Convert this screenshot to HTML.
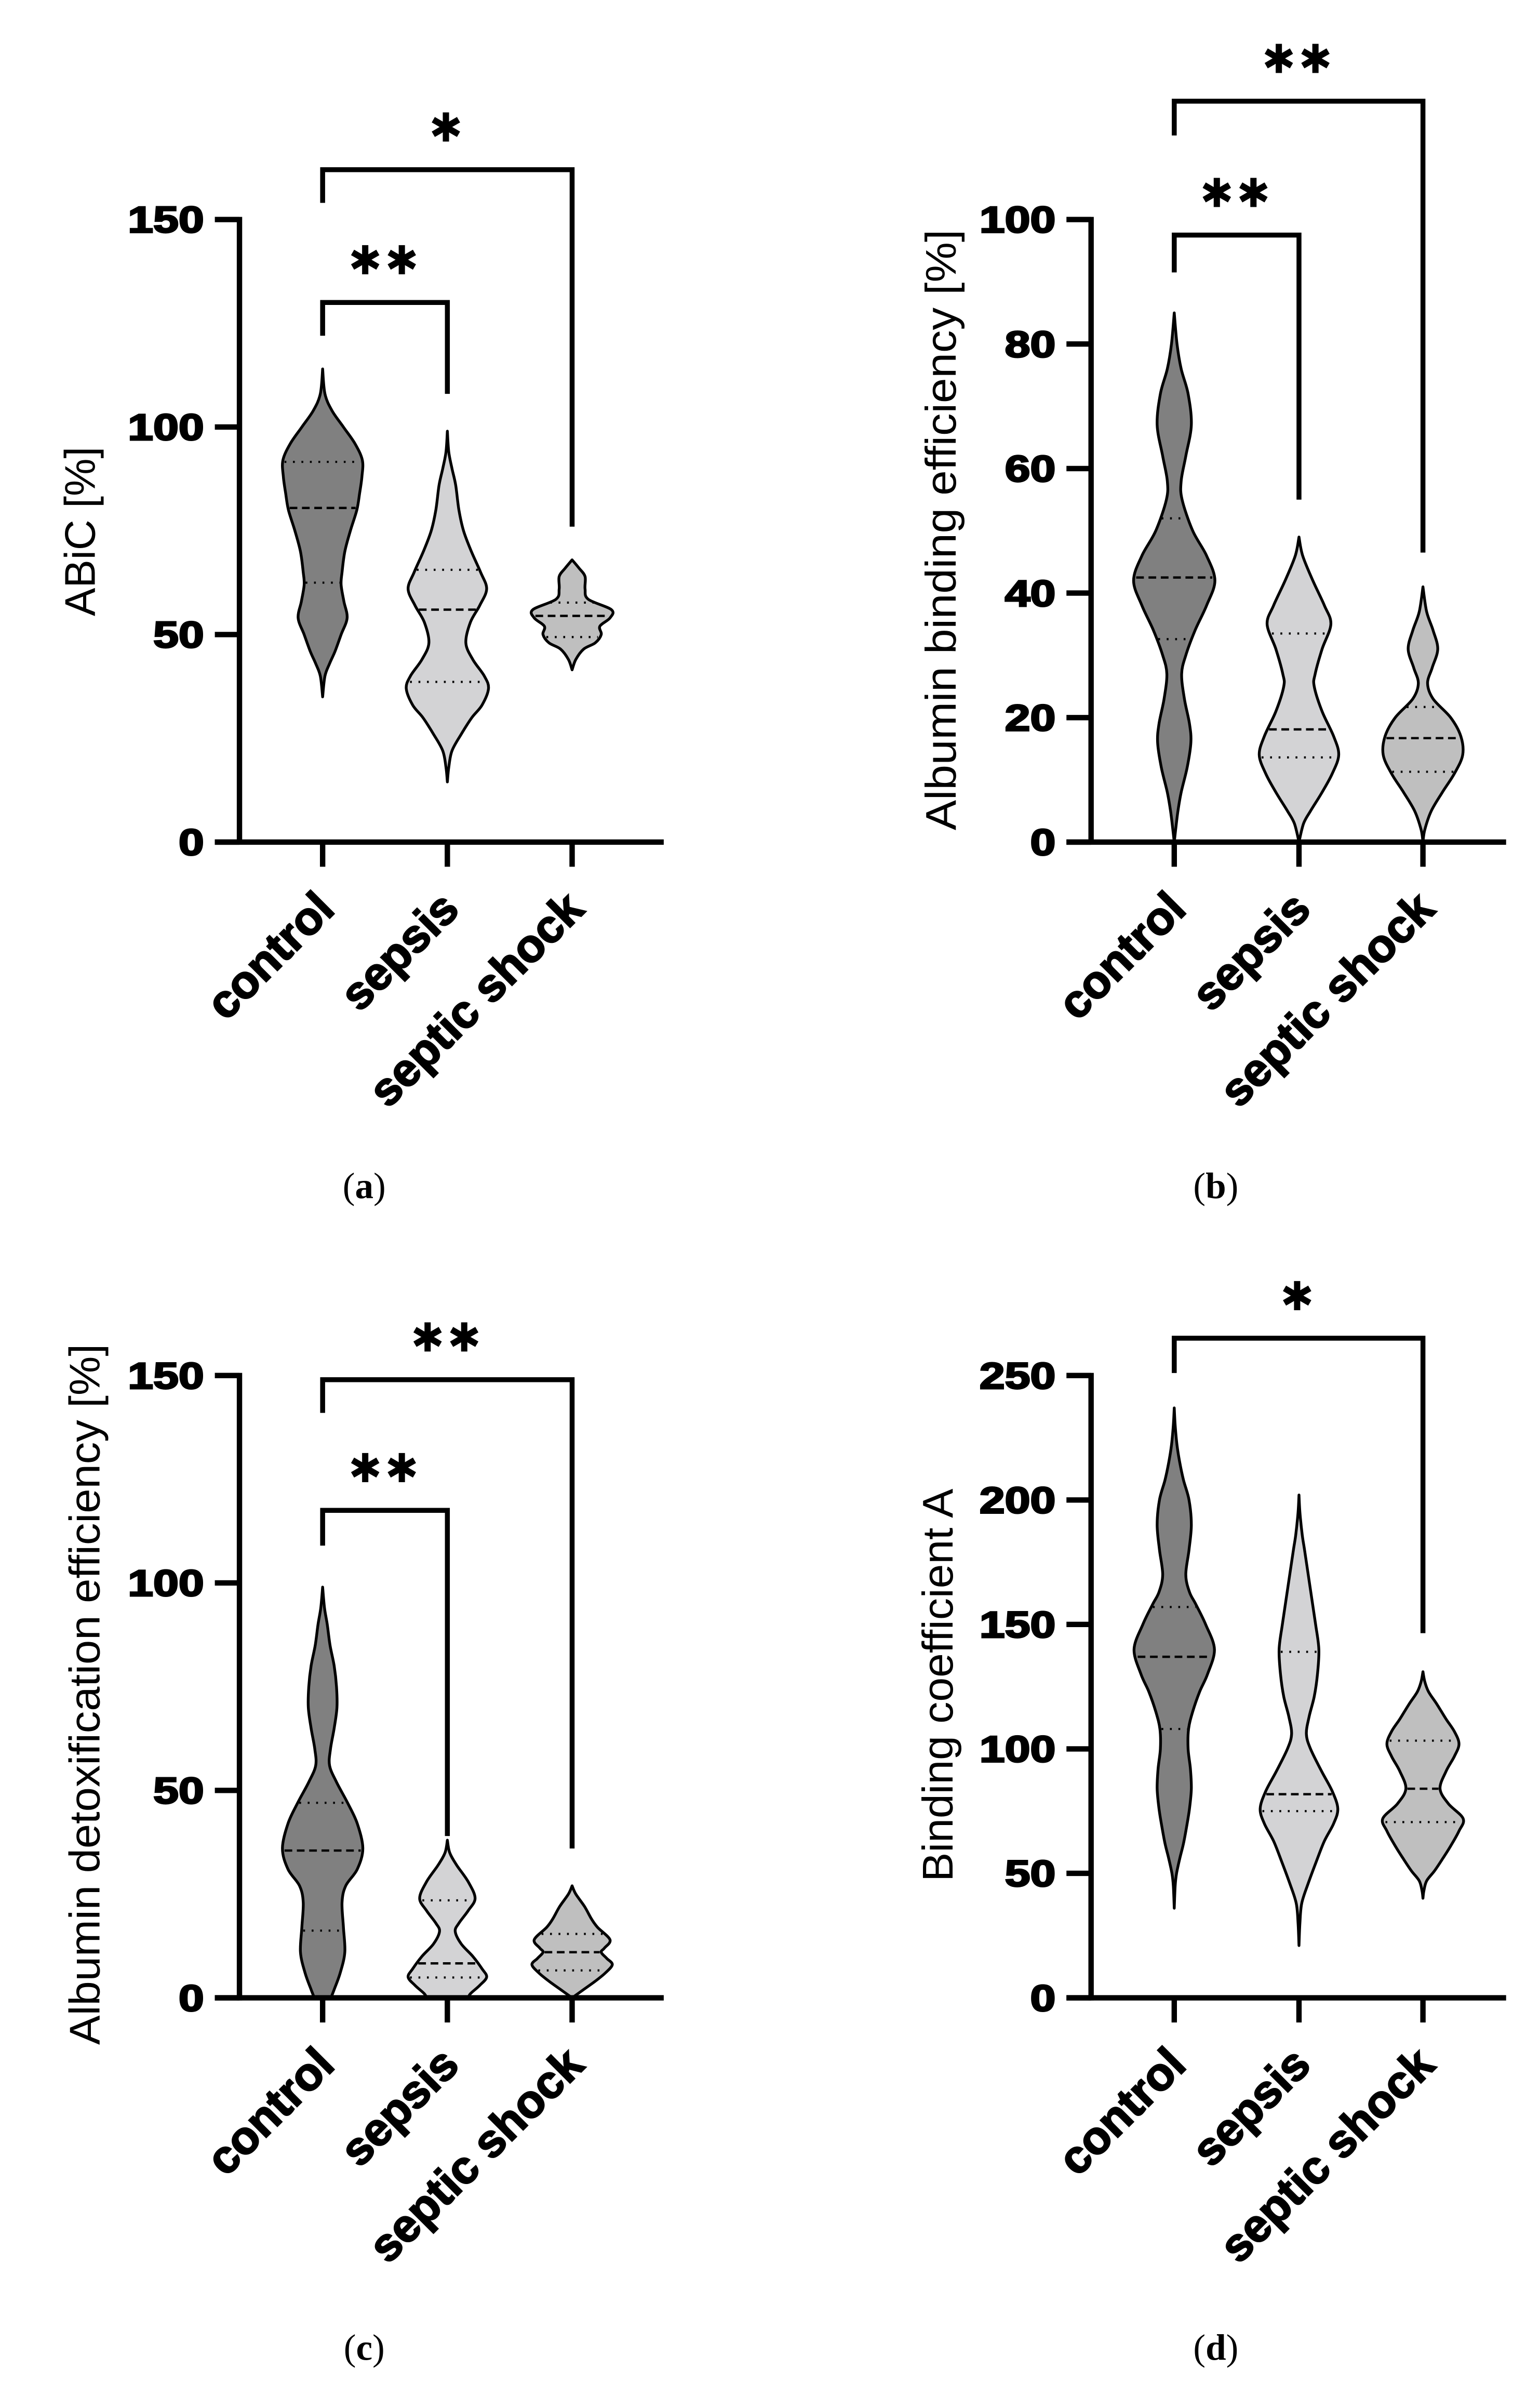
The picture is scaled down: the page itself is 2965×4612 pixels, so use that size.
<!DOCTYPE html>
<html><head><meta charset="utf-8">
<style>
html,body{margin:0;padding:0;background:#fff;}
svg{display:block;}
</style></head>
<body>
<svg id="fig" width="2965" height="4612" viewBox="0 0 1000 1555.5" xmlns="http://www.w3.org/2000/svg">
<rect x="0" y="0" width="1000" height="1555.5" fill="#fff"/>
</svg>
<script>
// ---- data ----
const categories = ["control", "sepsis", "septic shock"];
const yTicksA = [0, 50, 100, 150];
const yTicksB = [0, 20, 40, 60, 80, 100];
const yTicksC = [0, 50, 100, 150];
const yTicksD = [0, 50, 100, 150, 200, 250];
const yTitles = ["ABiC [%]", "Albumin binding efficiency [%]", "Albumin detoxification efficiency [%]", "Binding coefficient A"];
const captions = ["a", "b", "c", "d"];

// violin profiles: [value, relative density]
const aControl = [[114,0],[108,0.05],[104,0.2],[100,0.45],[96,0.7],[92,0.86],[88,0.85],[84,0.8],[80,0.74],[75,0.6],[70,0.48],[65,0.42],[62,0.4],[58,0.46],[54,0.53],[50,0.4],[46,0.27],[43,0.15],[40,0.05],[35,0]];
const aSepsis = [[99,0],[94,0.03],[90,0.1],[86,0.18],[80,0.25],[75,0.35],[70,0.52],[65,0.72],[61,0.85],[57,0.7],[53,0.5],[48,0.4],[44,0.55],[40,0.8],[37,0.89],[33,0.75],[30,0.53],[26,0.3],[22,0.1],[18,0.03],[14.5,0]];
const aShock = [[68,0],[66,0.15],[64,0.28],[61,0.28],[58.5,0.35],[56,0.85],[54,0.82],[52,0.6],[50,0.63],[48,0.5],[46.5,0.25],[44,0.08],[41.5,0]];
const bControl = [[85,0],[80,0.06],[76,0.15],[72,0.3],[67,0.37],[62,0.25],[58,0.15],[55,0.17],[50,0.4],[46,0.7],[42,0.88],[38,0.7],[34,0.45],[30,0.25],[27,0.16],[23,0.22],[19,0.33],[16,0.36],[12,0.28],[8,0.15],[5,0.08],[2,0.03],[0,0]];
const bSepsis = [[49,0],[46,0.08],[42,0.3],[38,0.55],[35,0.69],[31,0.5],[27,0.35],[25,0.33],[21,0.5],[17,0.75],[14,0.86],[11,0.72],[8,0.5],[5,0.25],[3,0.1],[0,0]];
const bShock = [[41,0],[37,0.08],[34,0.22],[31,0.32],[28,0.2],[25.5,0.1],[23,0.22],[20,0.6],[17,0.82],[14,0.86],[11,0.68],[8,0.42],[5,0.18],[2,0.04],[0,0]];
const cControl = [[99,0],[94,0.04],[90,0.1],[85,0.16],[80,0.25],[75,0.3],[70,0.31],[65,0.25],[60,0.17],[56,0.15],[52,0.3],[47,0.54],[42,0.75],[36,0.87],[31,0.75],[27,0.5],[23,0.42],[17,0.45],[11,0.48],[6,0.38],[2,0.25],[0,0.18]];
const cSepsis = [[38,0],[35,0.05],[32,0.2],[28,0.45],[24,0.6],[21,0.45],[18,0.25],[16,0.17],[13,0.3],[10,0.55],[7,0.75],[5,0.85],[3,0.7],[1,0.5],[0,0.45]];
const cShock = [[27,0],[25,0.08],[22,0.27],[19,0.42],[17,0.55],[14,0.82],[12,0.7],[11,0.63],[9.5,0.75],[8,0.87],[6,0.72],[4,0.5],[2,0.25],[0,0]];
const dControl = [[237,0],[230,0.02],[222,0.06],[215,0.12],[208,0.2],[200,0.32],[190,0.37],[180,0.32],[170,0.25],[163,0.33],[158,0.47],[150,0.68],[140,0.87],[130,0.72],[123,0.55],[115,0.4],[108,0.31],[100,0.3],[92,0.35],[84,0.37],[76,0.33],[69,0.27],[62,0.2],[56,0.12],[50,0.05],[45,0.02],[36,0]];
const dSepsis = [[202,0],[195,0.02],[186,0.07],[180,0.12],[170,0.2],[160,0.28],[150,0.36],[140,0.43],[130,0.4],[121,0.33],[113,0.22],[106,0.16],[100,0.25],[91,0.49],[83,0.72],[76,0.84],[70,0.75],[63,0.55],[55,0.38],[46,0.2],[38,0.06],[30,0.02],[21,0]];
const dShock = [[131,0],[127,0.04],[123,0.12],[118,0.3],[112,0.5],[107,0.68],[102,0.78],[97,0.68],[91,0.5],[84,0.37],[78,0.55],[72,0.87],[67,0.78],[61,0.6],[56,0.43],[51,0.25],[47,0.08],[43,0.02],[40,0]];

// medians and quartiles [control, sepsis, shock]
const aMedians = [80.5, 56, 54.5];
const aQ1 = [62.5, 38.6, 49.4];
const aQ3 = [91.6, 65.6, 57.7];
const bMedians = [42.5, 18.1, 16.7];
const bQ1 = [32.6, 13.6, 11.3];
const bQ3 = [52, 33.5, 21.7];
const cMedians = [35.5, 8.3, 11];
const cQ1 = [16.2, 4.9, 6.6];
const cQ3 = [47, 23.5, 15.4];
const dMedians = [137, 81.8, 84];
const dQ1 = [108, 75, 70.6];
const dQ3 = [157, 139, 103.3];

// significance: [fromIdx, toIdx, label, bracketValue, leftLegValue, rightLegValue]
const aSig = [[0,1,"**",130,122,108],[0,2,"*",162,154,76]];
const bSig = [[0,1,"**",97.5,91.5,55],[0,2,"**",119,113.5,46.5]];
const cSig = [[0,1,"**",117.5,109,39],[0,2,"**",149,141,36]];
const dSig = [[0,2,"*",265,251,146.5]];

// ---- layout ----
const NS = "http://www.w3.org/2000/svg";
const svg = document.getElementById("fig");
const fills = ["#808080", "#d3d3d5", "#bfbfbf"];
const panels = [
  {id:"a", ax:155.5, cats:[209.5,290.5,371.5], y0:546.7, y1:142.5, max:150, ticks:yTicksA, xEnd:431, prof:[aControl,aSepsis,aShock], med:aMedians, q1:aQ1, q3:aQ3, sig:aSig, title:yTitles[0], tx:52, ty:345, tlen:110, cap:captions[0], capY:778},
  {id:"b", ax:708.5, cats:[762.5,843.5,924], y0:546.7, y1:142.5, max:100, ticks:yTicksB, xEnd:978, prof:[bControl,bSepsis,bShock], med:bMedians, q1:bQ1, q3:bQ3, sig:bSig, title:yTitles[1], tx:611, ty:344, tlen:390, cap:captions[1], capY:778},
  {id:"c", ax:155.5, cats:[209.5,290.5,371.5], y0:1297, y1:893, max:150, ticks:yTicksC, xEnd:431, prof:[cControl,cSepsis,cShock], med:cMedians, q1:cQ1, q3:cQ3, sig:cSig, title:yTitles[2], tx:55, ty:1100, tlen:455, cap:captions[2], capY:1532},
  {id:"d", ax:708.5, cats:[762.5,843.5,924], y0:1297, y1:893, max:250, ticks:yTicksD, xEnd:978, prof:[dControl,dSepsis,dShock], med:dMedians, q1:dQ1, q3:dQ3, sig:dSig, title:yTitles[3], tx:609, ty:1094, tlen:255, cap:captions[3], capY:1532}
];
const HALF = 30;

function mk(tag, attrs, parent) {
  const e = document.createElementNS(NS, tag);
  for (const k in attrs) e.setAttribute(k, attrs[k]);
  (parent || svg).appendChild(e);
  return e;
}
function interp(prof, v) {
  for (let i = 0; i < prof.length - 1; i++) {
    const a = prof[i], b = prof[i+1];
    if (v <= a[0] && v >= b[0]) { const t = (a[0]-v)/(a[0]-b[0] || 1); return a[1] + t*(b[1]-a[1]); }
  }
  return 0;
}
function crPath(pts) {
  let d = "";
  for (let i = 0; i < pts.length - 1; i++) {
    const p0 = pts[Math.max(i-1,0)], p1 = pts[i], p2 = pts[i+1], p3 = pts[Math.min(i+2,pts.length-1)];
    const c1 = [p1[0]+(p2[0]-p0[0])/6, p1[1]+(p2[1]-p0[1])/6];
    const c2 = [p2[0]-(p3[0]-p1[0])/6, p2[1]-(p3[1]-p1[1])/6];
    d += " C" + c1[0].toFixed(2)+","+c1[1].toFixed(2)+" "+c2[0].toFixed(2)+","+c2[1].toFixed(2)+" "+p2[0].toFixed(2)+","+p2[1].toFixed(2);
  }
  return d;
}

panels.forEach(p => {
  const g = mk("g", {});
  
  
  const Y = v => p.y0 - (v / p.max) * (p.y0 - p.y1);

  p.prof.forEach((prof, ci) => {
    const cx = p.cats[ci];
    const right = prof.map(d => [cx + d[1]*HALF, Y(d[0])]);
    const left = prof.slice().reverse().map(d => [cx - d[1]*HALF, Y(d[0])]);
    let d = "M" + right[0][0] + "," + right[0][1] + crPath(right);
    d += " L" + left[0][0] + "," + left[0][1] + crPath(left) + " Z";
    const v = mk("path", {d:d, fill:fills[ci], stroke:"#000", "stroke-width":1.8, "stroke-linejoin":"round"}, g);
    
    
    const drawLine = (val, dash, name) => {
      const hw = interp(prof, val) * HALF;
      const l = mk("line", {x1:cx-hw+1, x2:cx+hw-1, y1:Y(val), y2:Y(val), stroke:"#000", "stroke-width":dash==="med"?1.5:1.4, "stroke-dasharray":dash==="med"?"5,3":"1.2,4.3", "stroke-linecap":"butt"}, g);
      
      
    };
    drawLine(p.med[ci], "med", "median-line");
    drawLine(p.q1[ci], "q", "q1-line");
    drawLine(p.q3[ci], "q", "q3-line");
  });

  const ya = mk("line", {x1:p.ax, x2:p.ax, y1:p.y1-1.7, y2:p.y0+1.7, stroke:"#000", "stroke-width":3.5}, g);
  
  
  const xa = mk("line", {x1:p.ax-16, x2:p.xEnd, y1:p.y0, y2:p.y0, stroke:"#000", "stroke-width":3.5}, g);
  
  
  p.ticks.forEach(t => {
    const tl = mk("line", {x1:p.ax-16, x2:p.ax, y1:Y(t), y2:Y(t), stroke:"#000", "stroke-width":3.5}, g);
    
    
    const s = String(t);
    const tx = mk("text", {x:p.ax-23, y:Y(t)+8.5, "text-anchor":"end", "font-family":"Liberation Sans, Arial, sans-serif", "font-weight":"bold", "font-size":24, textLength:s.length*16.5, lengthAdjust:"spacingAndGlyphs", stroke:"#000", "stroke-width":1}, g);
    tx.textContent = s;
    
    
  });
  p.cats.forEach((cx, ci) => {
    const tk = mk("line", {x1:cx, x2:cx, y1:p.y0, y2:p.y0+16, stroke:"#000", "stroke-width":3.5}, g);
    
    
    const ex = cx + 9, ey = p.y0 + 45;
    const lab = mk("text", {x:ex, y:ey, "text-anchor":"end", transform:"rotate(-45 "+ex+" "+ey+")", "font-family":"Liberation Sans, Arial, sans-serif", "font-weight":"bold", "font-size":30, stroke:"#000", "stroke-width":0.9}, g);
    lab.textContent = categories[ci];
    
    
  });

  const tt = mk("text", {x:p.tx, y:p.ty, "text-anchor":"middle", "dominant-baseline":"central", transform:"rotate(-90 "+p.tx+" "+p.ty+")", "font-family":"Liberation Sans, Arial, sans-serif", "font-size":28, textLength:p.tlen, lengthAdjust:"spacingAndGlyphs"}, g);
  tt.textContent = p.title;
  
  

  p.sig.forEach(s => {
    const xL = p.cats[s[0]], xR = p.cats[s[1]];
    const yb = Y(s[3]);
    const br = mk("path", {d:"M"+xL+","+Y(s[4])+" L"+xL+","+yb+" L"+xR+","+yb+" L"+xR+","+Y(s[5]), fill:"none", stroke:"#000", "stroke-width":3.2, "stroke-linejoin":"miter"}, g);
    
    
    const st = mk("text", {x:(xL+xR)/2, y:yb-27, "text-anchor":"middle", "dominant-baseline":"central", "font-family":"DejaVu Sans, sans-serif", "font-size":26, "letter-spacing":2}, g);
    st.textContent = s[2] === "**" ? "\u2731\u2731" : "\u2731";
    
    
  });

  const cx0 = p.cats[0] + 27;
  const cap = mk("text", {x:cx0, y:p.capY, "text-anchor":"middle", "font-family":"Liberation Serif, serif", "font-size":24}, g);
  
  
  const t1 = mk("tspan", {}, cap); t1.textContent = "(";
  const t2 = mk("tspan", {"font-weight":"bold"}, cap); t2.textContent = p.cap;
  const t3 = mk("tspan", {}, cap); t3.textContent = ")";
});
</script>
</body></html>
